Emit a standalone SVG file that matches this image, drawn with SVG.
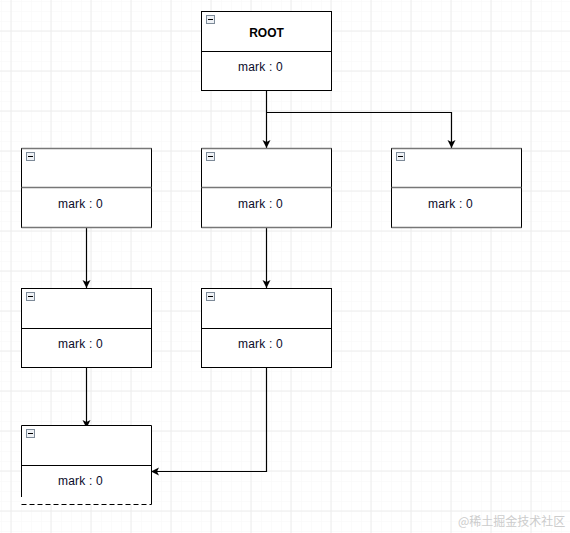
<svg xmlns="http://www.w3.org/2000/svg" width="570" height="533" viewBox="0 0 570 533">
<defs>
<pattern id="minor" x="1" y="1" width="10" height="10" patternUnits="userSpaceOnUse">
<path d="M0,0 H10 M0,0 V10" fill="none" stroke="#f7f7f7" stroke-width="1"/>
</pattern>
<pattern id="major" x="10.5" y="30.5" width="40" height="40" patternUnits="userSpaceOnUse">
<path d="M0.5,0 V40 M0,0.5 H40" fill="none" stroke="#ececec" stroke-width="1"/>
</pattern>
<marker id="arr" markerWidth="10" markerHeight="10" refX="8" refY="4" orient="auto" markerUnits="userSpaceOnUse">
<path d="M0,0 L8,4 L0,8 L2,4 Z" fill="#000"/>
</marker>
<g id="icon">
<rect x="0.5" y="0.5" width="8" height="8" fill="#eef1f5" stroke="#7d8a98" stroke-width="1"/>
<path d="M2,4.5 H7" stroke="#000" stroke-width="1"/>
</g>
</defs>
<style>
.box{fill:#fff;stroke:#000;stroke-width:1}
.hl{stroke:#777;stroke-width:1.5}
.lbl{font-family:"Liberation Sans",Arial,sans-serif;font-size:12px;fill:#0a0a2a;text-anchor:middle;letter-spacing:0.2px}
.ttl{font-family:"Liberation Sans",Arial,sans-serif;font-size:12px;font-weight:bold;fill:#000;text-anchor:middle}
.edge{fill:none;stroke:#000;stroke-width:1.2}
.wm{font-family:"Noto Sans CJK SC","Liberation Sans",sans-serif;font-size:12px;fill:#cccccc}
</style>
<rect width="570" height="533" fill="#fff"/>
<rect width="570" height="533" fill="url(#minor)"/>
<rect width="570" height="533" fill="url(#major)"/>

<g id="connectors">
<path class="edge" d="M266.5,90 V148" marker-end="url(#arr)"/>
<path class="edge" d="M266.5,112.5 H451.5 V148" marker-end="url(#arr)"/>
<path class="edge" d="M86.5,227 V288" marker-end="url(#arr)"/>
<path class="edge" d="M266.5,227 V288" marker-end="url(#arr)"/>
<path class="edge" d="M86.5,367 V428" marker-end="url(#arr)"/>
<path class="edge" d="M266.5,367 V471.5 H151" marker-end="url(#arr)"/>
</g>

<g id="root">
<rect class="box" x="201.5" y="11.5" width="130" height="79"/>
<path d="M201.5,51.5 H331.5" stroke="#000" stroke-width="1"/>
<use href="#icon" x="206" y="15"/>
<text class="ttl" x="266.5" y="37">ROOT</text>
<text class="lbl" x="260.5" y="71">mark : 0</text>
</g>

<g id="n_l2">
<rect class="box" x="21.5" y="148.5" width="130" height="79"/>
<path class="hl" d="M21.5,148.5 H151.5 M21.5,187.5 H151.5 M21.5,227.5 H151.5"/>
<use href="#icon" x="26" y="152"/>
<text class="lbl" x="80.5" y="208">mark : 0</text>
</g>

<g id="n_m2">
<rect class="box" x="201.5" y="148.5" width="130" height="79"/>
<path class="hl" d="M201.5,148.5 H331.5 M201.5,187.5 H331.5 M201.5,227.5 H331.5"/>
<use href="#icon" x="206" y="152"/>
<text class="lbl" x="260.5" y="208">mark : 0</text>
</g>

<g id="n_r2">
<rect class="box" x="391.5" y="148.5" width="130" height="79"/>
<path class="hl" d="M391.5,148.5 H521.5 M391.5,187.5 H521.5 M391.5,227.5 H521.5"/>
<use href="#icon" x="396" y="152"/>
<text class="lbl" x="450.5" y="208">mark : 0</text>
</g>

<g id="n_l3">
<rect class="box" x="21.5" y="288.5" width="130" height="79"/>
<path d="M21.5,328.5 H151.5" stroke="#000" stroke-width="1"/>
<use href="#icon" x="26" y="292"/>
<text class="lbl" x="80.5" y="348">mark : 0</text>
</g>

<g id="n_m3">
<rect class="box" x="201.5" y="288.5" width="130" height="79"/>
<path d="M201.5,328.5 H331.5" stroke="#000" stroke-width="1"/>
<use href="#icon" x="206" y="292"/>
<text class="lbl" x="260.5" y="348">mark : 0</text>
</g>

<g id="n_l4">
<rect x="21.5" y="425.5" width="130" height="79" fill="#fff"/>
<path d="M21.5,497 V425.5 H151.5 V504.5" fill="none" stroke="#000" stroke-width="1"/>
<path d="M21.5,504.5 H151.5" stroke="#000" stroke-width="1" stroke-dasharray="5,3"/>
<path d="M21.5,465.5 H151.5" stroke="#000" stroke-width="1"/>
<use href="#icon" x="26" y="429"/>
<text class="lbl" x="80.5" y="485">mark : 0</text>
</g>

<text class="wm" x="458" y="526">@稀土掘金技术社区</text>
</svg>
